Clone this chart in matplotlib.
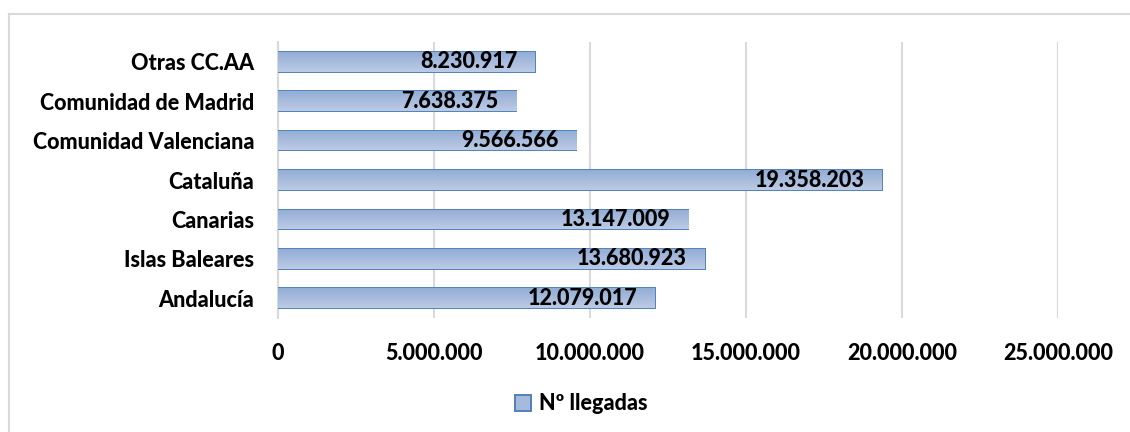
import matplotlib
matplotlib.use("Agg")
import matplotlib.pyplot as plt
from matplotlib.patches import Patch
from matplotlib.lines import Line2D
from matplotlib.colors import LinearSegmentedColormap
import numpy as np

regions = ["Andalucía", "Islas Baleares", "Canarias", "Cataluña",
           "Comunidad Valenciana", "Comunidad de Madrid", "Otras CC.AA"]
arrivals = [12079017, 13680923, 13147009, 19358203, 9566566, 7638375, 8230917]
ticks = [0, 5000000, 10000000, 15000000, 20000000, 25000000]
series_name = "Nº llegadas"

W, H = 1130, 432
FS = 15.5
WEIGHT = 900
plt.rcParams["font.family"] = ["Lato", "DejaVu Sans"]
plt.rcParams["font.weight"] = WEIGHT

fig = plt.figure(figsize=(W / 100, H / 100), dpi=100)
ax = fig.add_axes([278 / W, 1 - 318 / H, (1058 - 278) / W, (318 - 42) / H])


def thousands(v):
    return f"{int(v):,}".replace(",", ".")


face = "#A6BBDC"
edge = "#4F81BD"
y = np.arange(len(regions))
bars = ax.barh(y, arrivals, height=0.5, color=face, edgecolor=edge,
               linewidth=1.4, zorder=3)

# vertical gradient inside each bar
grad = np.linspace(0, 1, 64).reshape(-1, 1)
cmap = LinearSegmentedColormap.from_list("barfill", ["#BCCBE5", "#94ADD5"])
for b in bars:
    x0, y0 = b.get_x(), b.get_y()
    w, h = b.get_width(), b.get_height()
    im = ax.imshow(grad, extent=[x0, x0 + w, y0 + h, y0], aspect="auto",
                   cmap=cmap, zorder=3.5, origin="upper")
    im.set_clip_path(b)

for b, v in zip(bars, arrivals):
    ax.text(v - 570000, b.get_y() + b.get_height() / 2, thousands(v),
            ha="right", va="center", fontsize=FS, fontweight=WEIGHT,
            color="black", zorder=5)

ax.set_xlim(0, 25000000)
ax.set_ylim(-0.5, len(regions) - 0.5)
ax.set_xticks(ticks)
ax.set_xticklabels([thousands(t) for t in ticks], fontsize=FS, fontweight=WEIGHT)
ax.set_yticks(y)
ax.set_yticklabels(regions, fontsize=FS, fontweight=WEIGHT)
ax.tick_params(axis="both", length=0)
ax.tick_params(axis="x", pad=18)
ax.tick_params(axis="y", pad=17)
ax.grid(axis="x", color="#D9D9D9", linewidth=1.5, zorder=0)
for s in ["top", "right", "bottom"]:
    ax.spines[s].set_visible(False)
ax.spines["left"].set_color("#D9D9D9")
ax.spines["left"].set_linewidth(1.5)

# chart frame
fig.add_artist(Line2D([8.5 / W, 8.5 / W], [0, 1 - 13.5 / H],
                      transform=fig.transFigure, color="#D9D9D9", linewidth=1.5))
fig.add_artist(Line2D([8.5 / W, 1], [1 - 13.5 / H, 1 - 13.5 / H],
                      transform=fig.transFigure, color="#D9D9D9", linewidth=1.5))

handle = Patch(facecolor=face, edgecolor=edge, linewidth=1.4)
fig.legend([handle], [series_name], loc="center", bbox_to_anchor=(581 / W, 1 - 404 / H),
           frameon=False, prop={"weight": WEIGHT, "size": FS},
           handlelength=0.75, handleheight=0.75, handletextpad=0.35)

fig.savefig("out.png", dpi=100, facecolor="white")
